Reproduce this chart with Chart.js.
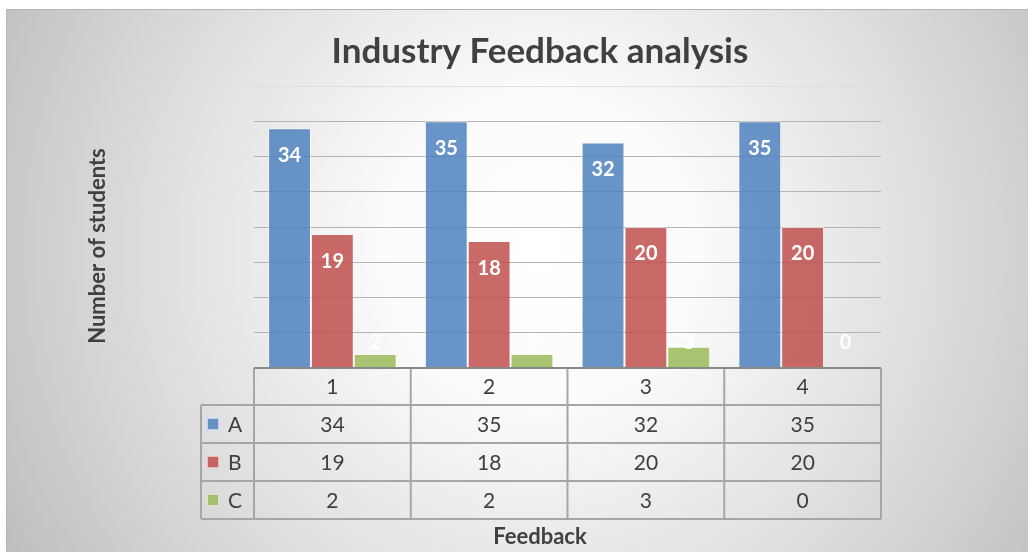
<!DOCTYPE html>
<html>
<head>
<meta charset="utf-8">
<script src="https://cdn.jsdelivr.net/npm/chart.js@4.4.0/dist/chart.umd.min.js"></script>
<style>
  html, body { margin: 0; padding: 0; background: #ffffff; }
  #wrap { width: 1028px; height: 552px; position: relative; }
</style>
</head>
<body>
<div id="wrap"><canvas id="c" width="1028" height="552"></canvas></div>
<script>
const categories = ['1', '2', '3', '4'];
const seriesNames = ['A', 'B', 'C'];
const seriesA = [34, 35, 32, 35];
const seriesB = [19, 18, 20, 20];
const seriesC = [2, 2, 3, 0];
const yTicks = [0, 5, 10, 15, 20, 25, 30, 35, 40];
const chartTitle = 'Industry Feedback analysis';
const yTitle = 'Number of students';
const xTitle = 'Feedback';

const colors = ['rgba(79,129,189,0.85)', 'rgba(192,80,77,0.85)', 'rgba(155,187,89,0.85)'];
const seriesData = [seriesA, seriesB, seriesC];
const FONT = 'Lato, "Open Sans", sans-serif';

const bgPlugin = {
  id: 'bg',
  beforeDraw(chart) {
    const ctx = chart.ctx;
    ctx.save();
    const g = ctx.createRadialGradient(540, 250, 0, 540, 250, 620);
    g.addColorStop(0, '#ffffff');
    g.addColorStop(0.25, '#fbfbfb');
    g.addColorStop(0.7, '#d8d8d8');
    g.addColorStop(1, '#bdbdbd');
    ctx.fillStyle = g;
    ctx.fillRect(6, 9, 1022, 543);
    ctx.strokeStyle = '#b5b5b5';
    ctx.lineWidth = 1;
    ctx.beginPath();
    ctx.moveTo(6.5, 552);
    ctx.lineTo(6.5, 9.5);
    ctx.lineTo(1028, 9.5);
    ctx.stroke();
    // title
    ctx.fillStyle = '#404040';
    ctx.font = 'bold 35px ' + FONT;
    ctx.textAlign = 'center';
    ctx.textBaseline = 'middle';
    ctx.fillText(chartTitle, 540, 52);
    // y title
    ctx.save();
    ctx.translate(98, 246);
    ctx.rotate(-Math.PI / 2);
    ctx.font = 'bold 22px ' + FONT;
    ctx.fillText(yTitle, 0, 0);
    ctx.restore();
    ctx.restore();
  }
};

const labelPlugin = {
  id: 'vlabels',
  afterDatasetsDraw(chart) {
    const ctx = chart.ctx;
    const area = chart.chartArea;
    ctx.save();
    ctx.fillStyle = '#ffffff';
    ctx.font = 'bold 20px ' + FONT;
    ctx.textAlign = 'center';
    ctx.textBaseline = 'middle';
    chart.data.datasets.forEach((ds, di) => {
      const meta = chart.getDatasetMeta(di);
      meta.data.forEach((el, i) => {
        const y = Math.min(el.y + 27, area.bottom - 25);
        ctx.fillText(String(ds.data[i]), el.x, y);
      });
    });
    ctx.restore();
  }
};

const tablePlugin = {
  id: 'dtable',
  afterDraw(chart) {
    const ctx = chart.ctx;
    const area = chart.chartArea;
    const xs = chart.scales.x;
    const n = categories.length;
    const w = (area.right - area.left) / n;
    const rows = [area.bottom, area.bottom + 37, area.bottom + 75, area.bottom + 113, area.bottom + 151];
    const legLeft = 201;
    ctx.save();
    ctx.strokeStyle = '#a6a6a6';
    ctx.lineWidth = 2;
    ctx.beginPath();
    ctx.moveTo(area.left, rows[0]); ctx.lineTo(area.right, rows[0]);
    for (let r = 1; r < rows.length; r++) {
      ctx.moveTo(legLeft, rows[r]); ctx.lineTo(area.right, rows[r]);
    }
    for (let k = 0; k <= n; k++) {
      const x = area.left + k * w;
      ctx.moveTo(x, rows[0]); ctx.lineTo(x, rows[4]);
    }
    ctx.moveTo(legLeft, rows[1]); ctx.lineTo(legLeft, rows[4]);
    ctx.stroke();
    ctx.strokeStyle = '#7f7f7f';
    ctx.lineWidth = 1.5;
    ctx.beginPath();
    ctx.moveTo(area.left, rows[0]); ctx.lineTo(area.right, rows[0]);
    ctx.stroke();

    ctx.fillStyle = '#404040';
    ctx.font = '21px ' + FONT;
    ctx.textAlign = 'center';
    ctx.textBaseline = 'middle';
    categories.forEach((c, i) => {
      const x = xs.getPixelForValue(i);
      ctx.fillText(c, x, (rows[0] + rows[1]) / 2 + 1);
      seriesData.forEach((arr, s) => {
        ctx.fillText(String(arr[i]), x, (rows[s + 1] + rows[s + 2]) / 2 + 1);
      });
    });
    seriesNames.forEach((name, s) => {
      const cy = (rows[s + 1] + rows[s + 2]) / 2;
      ctx.fillStyle = colors[s];
      ctx.fillRect(207, cy - 6, 12, 12);
      ctx.strokeStyle = 'rgba(255,255,255,0.6)';
      ctx.lineWidth = 1;
      ctx.strokeRect(207.5, cy - 5.5, 11, 11);
      ctx.fillStyle = '#404040';
      ctx.textAlign = 'left';
      ctx.fillText(name, 228, cy + 1);
    });
    ctx.textAlign = 'center';
    ctx.font = 'bold 22px ' + FONT;
    ctx.fillText(xTitle, 540, 537);
    ctx.restore();
  }
};

new Chart(document.getElementById('c'), {
  type: 'bar',
  data: {
    labels: categories,
    datasets: seriesNames.map((name, s) => ({
      label: name,
      data: seriesData[s],
      backgroundColor: colors[s],
      borderColor: 'rgba(255,255,255,0.45)',
      borderWidth: 1,
      categoryPercentage: 0.82,
      barPercentage: 1.0
    }))
  },
  options: {
    responsive: false,
    animation: false,
    devicePixelRatio: 1,
    layout: { padding: { left: 254, right: 147, top: 86, bottom: 184 } },
    plugins: {
      legend: { display: false },
      title: { display: false },
      tooltip: { enabled: false }
    },
    scales: {
      x: {
        ticks: { display: false },
        grid: { display: false, drawTicks: false },
        border: { display: false }
      },
      y: {
        min: yTicks[0],
        max: yTicks[yTicks.length - 1],
        afterBuildTicks(axis) { axis.ticks = yTicks.map(v => ({ value: v })); },
        ticks: { display: false },
        grid: {
          drawTicks: false,
          color: ctx => (ctx.tick && ctx.tick.value === 40) ? '#dedede' : '#b4b4b4',
          lineWidth: 1
        },
        border: { display: false }
      }
    }
  },
  plugins: [bgPlugin, labelPlugin, tablePlugin]
});
</script>
</body>
</html>
